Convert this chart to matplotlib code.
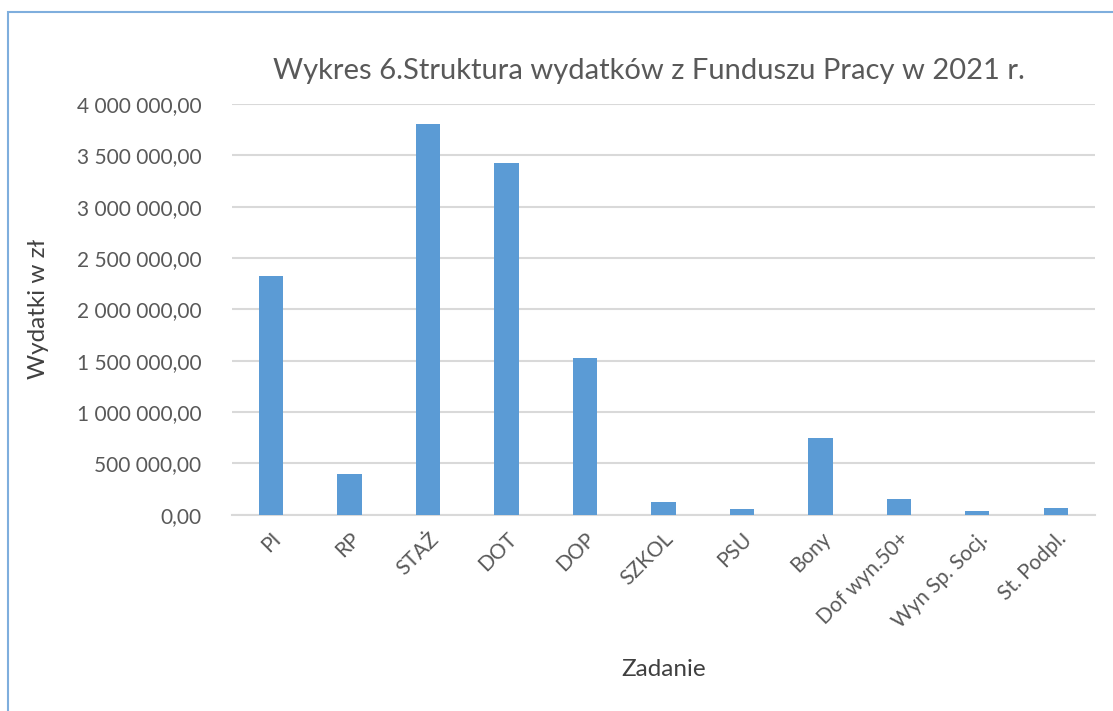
import matplotlib.pyplot as plt
from matplotlib.patches import Rectangle
from matplotlib.ticker import FuncFormatter, MultipleLocator

# Wydatki z Funduszu Pracy w 2021 r.
categories = ['PI', 'RP', 'STAŻ', 'DOT', 'DOP', 'SZKOL', 'PSU', 'Bony',
              'Dof wyn.50+', 'Wyn Sp. Socj.', 'St. Podpl.']
expenses = [2329000, 397000, 3804000, 3425000, 1527000, 124000, 53000,
            747000, 153000, 36000, 62000]

plt.rcParams['font.family'] = ['Lato', 'DejaVu Sans']

BAR_COLOR = '#5B9BD5'
GRID_COLOR = '#D9D9D9'
TEXT_COLOR = '#595959'


def pl_format(value, pos):
    # format 4 000 000,00
    s = f"{value:,.2f}"
    return s.replace(',', ' ').replace('.', ',')


def main():
    fig = plt.figure(figsize=(11.13, 7.11), dpi=100)
    ax = fig.add_axes([0.2084, 0.2761, 0.7754, 0.5776])

    x = range(len(categories))
    ax.bar(x, expenses, width=0.31, color=BAR_COLOR, zorder=3)

    ax.set_xlim(-0.5, len(categories) - 0.5)
    ax.set_ylim(0, 4000000)
    ax.yaxis.set_major_locator(MultipleLocator(500000))
    ax.yaxis.set_major_formatter(FuncFormatter(pl_format))
    ax.grid(axis='y', color=GRID_COLOR, linewidth=1.5, zorder=0)

    for side in ['top', 'right', 'left']:
        ax.spines[side].set_visible(False)
    ax.spines['bottom'].set_color(GRID_COLOR)
    ax.spines['bottom'].set_linewidth(1.5)
    ax.tick_params(length=0, colors=TEXT_COLOR, labelsize=15)
    ax.tick_params(axis='y', pad=22)

    ax.set_xticks(list(x))
    ax.set_xticklabels(categories, rotation=45, ha='right',
                       rotation_mode='anchor')
    ax.tick_params(axis='x', pad=10)

    ax.set_xlabel('Zadanie', fontsize=17.5, color='#404040', labelpad=20)
    ax.set_ylabel('Wydatki w zł', fontsize=17.5, color='#404040', labelpad=20)
    fig.text(0.583, 0.900, 'Wykres 6.Struktura wydatków z Funduszu Pracy w 2021 r.',
             ha='center', va='center', fontsize=21, color=TEXT_COLOR)

    # ramka wykresu (widoczna tylko z lewej i u góry)
    fig.add_artist(Rectangle((8 / 1113, -0.1), 1.2, (711 - 12) / 711 + 0.1,
                             transform=fig.transFigure, fill=False,
                             edgecolor='#7FAEDD', linewidth=1.5))

    fig.savefig('out.png', dpi=100)


if __name__ == "__main__":
    main()
